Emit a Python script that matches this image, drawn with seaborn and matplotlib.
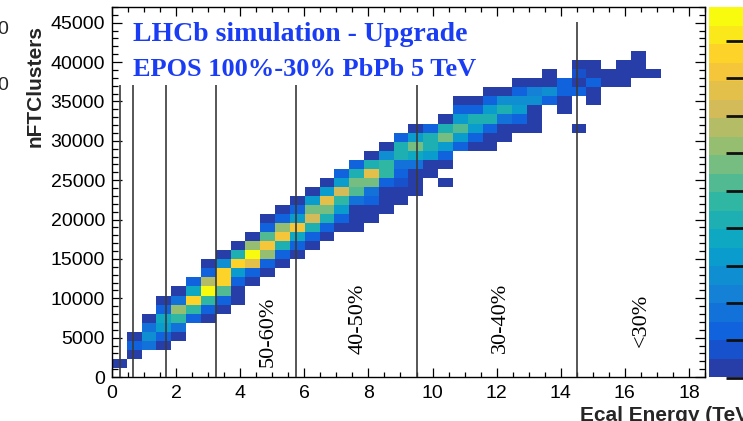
import numpy as np
import pandas as pd
import matplotlib
matplotlib.use("Agg")
import matplotlib.pyplot as plt
import seaborn as sns
from matplotlib.colors import LinearSegmentedColormap, ListedColormap
from matplotlib.ticker import MultipleLocator

# ---------------- data ----------------
x_lo, x_hi, n_xbins = 0.0, 18.5, 40          # Ecal Energy (TeV) binning
y_lo, y_hi, n_ybins = 0.0, 46000.0, 40       # nFTClusters binning
# first filled y-bin of every x-bin, and colour level (1..20) of the filled bins going up
col_first_row = [1, 2, 3, 3, 4, 6, 6, 7, 8, 10, 11, 12, 13, 14, 15, 16, 16, 17, 18, 19,
                 20, 22, 23, 25, 25, 25, 26, 27, 27, 30, 29, 31, 30, 32, 32, 33, 33]
col_levels = [
    [1],
    [1, 3, 1],
    [4, 6, 4, 1],
    [1, 3, 7, 8, 3, 1],
    [1, 4, 10, 13, 4, 1],
    [3, 10, 18, 8, 3],
    [1, 3, 10, 20, 14, 3, 1],
    [1, 3, 11, 18, 18, 6, 1],
    [1, 1, 3, 7, 18, 9, 1],
    [1, 3, 16, 20, 13, 1],
    [1, 3, 13, 17, 11, 3, 1],
    [1, 3, 9, 17, 13, 3, 1],
    [1, 3, 8, 17, 7, 3, 1],
    [1, 3, 9, 15, 12, 7, 1],
    [1, 3, 9, 12, 16, 7, 1],
    [1, 3, 7, 10, 15, 7, 3],
    [1, 1, 1, 4, 11, 12, 9, 3],
    [1, 1, 3, 4, 12, 16, 9, 1],
    [1, 1, 1, 3, 10, 10, 6, 1],
    [1, 1, 2, 3, 4, 9, 9, 3],
    [1, 1, 1, 4, 8, 12, 7, 1],
    [1, 1, 7, 9, 9, 3],
    [1, 3, 7, 12, 9, 1],
    [3, 7, 11, 7, 3, 1],
    [1, 3, 7, 9, 3, 1],
    [1, 1, 3, 9, 7, 3, 1],
    [1, 1, 4, 9, 6, 1],
    [1, 3, 7, 6, 3, 1],
    [1, 1, 1, 6, 5, 1],
    [3, 6, 1, 1],
    [1, 1, 3, 3],
    [3, 1, 2, 1],
    [1, 1, 3, 1, 1],
    [1, 1],
    [1, 1, 1],
    [1, 1, 1],
    [1],
]
isolated_col = [22, 31]
isolated_row = [21, 27]
isolated_level = [1, 1]

cut_energy = [0.25, 0.67, 1.68, 3.25, 5.75, 9.5, 14.5]
cut_top = [37100, 37100, 37100, 37100, 37100, 37100, 45100]

class_labels = ["50-60%", "40-50%", "30-40%", "<30%"]
class_label_x = [4.86, 7.67, 12.12, 16.5]
class_label_y = [5720, 7370, 7500, 7250]

x_ticks = [0, 2, 4, 6, 8, 10, 12, 14, 16, 18]
y_ticks = [0, 5000, 10000, 15000, 20000, 25000, 30000, 35000, 40000, 45000]

# ---------------- build the table ----------------
xw = (x_hi - x_lo) / n_xbins
yw = (y_hi - y_lo) / n_ybins
recs = []
for c, (r0, levs) in enumerate(zip(col_first_row, col_levels)):
    for k, v in enumerate(levs):
        recs.append((x_lo + (c + 0.5) * xw, y_lo + (r0 + k + 0.5) * yw, v))
for c, r, v in zip(isolated_col, isolated_row, isolated_level):
    recs.append((x_lo + (c + 0.5) * xw, y_lo + (r + 0.5) * yw, v))
df = pd.DataFrame(recs, columns=["energy", "clusters", "level"])
x_edges = np.linspace(x_lo, x_hi, n_xbins + 1)
y_edges = np.linspace(y_lo, y_hi, n_ybins + 1)

# ROOT kBird palette, 20 contour bands
bird_r = [0.2082, 0.0592, 0.0780, 0.0232, 0.1802, 0.5301, 0.8186, 0.9956, 0.9764]
bird_g = [0.1664, 0.3599, 0.5041, 0.6419, 0.7178, 0.7492, 0.7328, 0.7862, 0.9832]
bird_b = [0.5293, 0.8684, 0.8385, 0.7914, 0.6425, 0.4662, 0.3499, 0.1968, 0.0539]
bird = LinearSegmentedColormap.from_list(
    "bird", list(zip(np.linspace(0, 1, 9), zip(bird_r, bird_g, bird_b))))
band_colors = [bird((i + 1) / 20) for i in range(20)]
cmap = ListedColormap(band_colors)

# ---------------- figure ----------------
sns.set_style("ticks")
plt.rcParams["font.family"] = ["Liberation Sans", "DejaVu Sans"]

W, H = 743, 421
fig = plt.figure(figsize=(W / 100, H / 100), dpi=100)
fig.patch.set_facecolor("white")
ax = fig.add_axes([112 / W, (H - 377) / H, (705 - 112) / W, (377 - 7) / H])

sns.histplot(data=df, x="energy", y="clusters", weights="level",
             bins=(x_edges, y_edges), cmap=cmap, vmin=0.5, vmax=20.5,
             ax=ax, cbar=False)

ax.vlines(cut_energy, 0, cut_top, colors="#3a3a3a", linewidth=1.2, zorder=5)

for lab, lx, ly in zip(class_labels, class_label_x, class_label_y):
    ax.text(lx, ly, lab, rotation=90, ha="center", va="center",
            fontsize=16, family="Liberation Serif", color="black", zorder=6)

ax.text(0.035, 0.925, "LHCb simulation - Upgrade", transform=ax.transAxes,
        fontsize=20, fontweight="bold", family="Liberation Serif",
        color="#1a3cf5", ha="left", va="center")
ax.text(0.035, 0.83, "EPOS 100%-30% PbPb 5 TeV", transform=ax.transAxes,
        fontsize=19, fontweight="bold", family="Liberation Serif",
        color="#1a3cf5", ha="left", va="center")

ax.set_xlim(0, 18.5)
ax.set_ylim(0, 47000)
ax.set_xticks(x_ticks)
ax.set_yticks(y_ticks)
ax.xaxis.set_minor_locator(MultipleLocator(0.5))
ax.yaxis.set_minor_locator(MultipleLocator(1000))
ax.tick_params(which="both", direction="in", top=True, right=True,
               colors="black", labelsize=14, width=0.9)
ax.tick_params(axis="x", which="major", length=6.5, pad=6)
ax.tick_params(axis="x", which="minor", length=3.5)
ax.tick_params(axis="y", which="major", length=7.5, pad=5)
ax.tick_params(axis="y", which="minor", length=4.5)
for s in ax.spines.values():
    s.set_color("black")
    s.set_linewidth(1.0)
ax.set_xlabel("")
ax.set_ylabel("")
ax.grid(False)

fig.text(35 / W, 1 - 86 / H, "nFTClusters", rotation=90, ha="center",
         va="center", fontsize=15, fontweight="bold")
fig.text(580 / W, 1 - 406 / H, "Ecal Energy (TeV)", ha="left", va="top",
         fontsize=15, fontweight="bold")

# remnants of the neighbouring panel at the left edge
fig.text(8 / W, 1 - 29 / H, "0", ha="right", va="center", fontsize=14)
fig.text(8 / W, 1 - 86 / H, "0", ha="right", va="center", fontsize=14)

# palette (cut by the right edge): 20 colour bands with inward axis ticks
pal_bottom, pal_top = 377, 7
cax = fig.add_axes([709 / W, (H - pal_bottom) / H, 34 / W, (pal_bottom - pal_top) / H])
levels = np.arange(1, 21)
cax.pcolormesh([0, 1], np.arange(0.5, 21.0, 1.0), levels.reshape(-1, 1),
               cmap=cmap, vmin=0.5, vmax=20.5, zorder=1)
cax.set_xlim(0, 1)
cax.set_ylim(0.5, 20.5)
for s in cax.spines.values():
    s.set_visible(False)
cax.set_xticks([])
cax.set_yticks([])
for k in range(10):
    v = 0.45 + 2.025 * k
    cax.plot([0.5, 0.999], [v, v], color="#111111", linewidth=2.0,
             zorder=10, clip_on=False, solid_capstyle="butt")

fig.savefig("out.png", dpi=100)
